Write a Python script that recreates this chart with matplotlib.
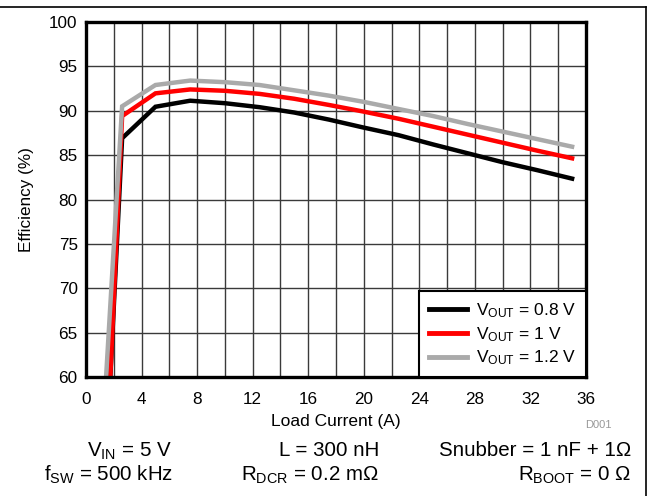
import matplotlib
matplotlib.use("Agg")
import matplotlib.pyplot as plt
from matplotlib.lines import Line2D

plt.rcParams['font.family'] = ['Liberation Sans', 'DejaVu Sans']
plt.rcParams['mathtext.fontset'] = 'custom'
plt.rcParams['mathtext.rm'] = 'Liberation Sans'
plt.rcParams['mathtext.it'] = 'Liberation Sans:italic'
plt.rcParams['mathtext.bf'] = 'Liberation Sans:bold'

# Data
load_current = [1.4, 2.6, 5, 7.5, 10, 12.5, 15, 17.5, 20, 22.5, 25, 27.5, 30, 32.5, 35]
eff_08 = [48.9, 86.9, 90.45, 91.13, 90.85, 90.4, 89.8, 89.0, 88.1, 87.25, 86.2, 85.2, 84.2, 83.3, 82.35]
eff_10 = [47.9, 89.4, 91.96, 92.4, 92.25, 91.9, 91.35, 90.65, 89.9, 89.1, 88.2, 87.3, 86.4, 85.5, 84.64]
eff_12 = [58.8, 90.5, 92.9, 93.4, 93.22, 92.9, 92.3, 91.7, 91.0, 90.2, 89.4, 88.5, 87.65, 86.8, 85.95]
series_labels = [r'V$_{\mathrm{OUT}}$ = 0.8 V', r'V$_{\mathrm{OUT}}$ = 1 V', r'V$_{\mathrm{OUT}}$ = 1.2 V']
series_colors = ['#000000', '#ff0000', '#aaaaaa']
x_ticks = [0, 4, 8, 12, 16, 20, 24, 28, 32, 36]
y_ticks = [60, 65, 70, 75, 80, 85, 90, 95, 100]

W, H = 649, 496
fig = plt.figure(figsize=(W / 100, H / 100), dpi=100)
ax = fig.add_axes([86 / W, 1 - 377 / H, (586 - 86) / W, (377 - 22) / H])

for y, lab, col in zip([eff_08, eff_10, eff_12], series_labels, series_colors):
    ax.plot(load_current, y, color=col, lw=3.2, label=lab, solid_joinstyle='miter', zorder=3)

ax.set_xlim(0, 36)
ax.set_ylim(60, 100)
ax.set_xticks(x_ticks)
ax.set_yticks(y_ticks)
ax.set_xticks(range(0, 37, 2), minor=True)
ax.tick_params(which='both', length=0, labelsize=12.3, colors='black')
ax.tick_params(axis='x', pad=10.5)
ax.tick_params(axis='y', pad=6)
ax.grid(True, which='both', axis='x', color='#3a3a3a', lw=1.0, zorder=1)
ax.grid(True, which='major', axis='y', color='#3a3a3a', lw=1.0, zorder=1)
for s in ax.spines.values():
    s.set_linewidth(2.4)
    s.set_color('black')
    s.set_zorder(5)

ax.set_xlabel('Load Current (A)', fontsize=12.5, labelpad=5)
ax.set_ylabel('Efficiency (%)', fontsize=12.3, labelpad=11)

leg = ax.legend(loc='lower right', fontsize=12.5, frameon=True, fancybox=False,
                edgecolor='black', framealpha=1, borderaxespad=0,
                handlelength=2.2, handletextpad=0.55, labelspacing=0.3,
                borderpad=0.55)
leg.get_frame().set_linewidth(1.5)
leg.set_zorder(6)
for lh in leg.get_lines():
    lh.set_linewidth(3.5)

# Figure frame (top and right)
fig.add_artist(Line2D([0, 646 / W], [1 - 7 / H, 1 - 7 / H], transform=fig.transFigure, color='black', lw=1.2))
fig.add_artist(Line2D([646 / W, 646 / W], [0, 1 - 7 / H], transform=fig.transFigure, color='black', lw=1.2))

fig.text(612 / W, 1 - 425 / H, 'D001', color='#999999', fontsize=8, ha='right', va='center')

fs = 14.8
row1 = 1 - 451 / H
row2 = 1 - 475 / H
fig.text(172 / W, row1, r'V$_{\mathrm{IN}}$ = 5 V', fontsize=fs, ha='right', va='center')
fig.text(379 / W, row1, 'L = 300 nH', fontsize=fs, ha='right', va='center')
fig.text(631 / W, row1, 'Snubber = 1 nF + 1Ω', fontsize=fs, ha='right', va='center')
fig.text(173 / W, row2, r'f$_{\mathrm{SW}}$ = 500 kHz', fontsize=fs, ha='right', va='center')
fig.text(379 / W, row2, r'R$_{\mathrm{DCR}}$ = 0.2 mΩ', fontsize=fs, ha='right', va='center')
fig.text(631 / W, row2, r'R$_{\mathrm{BOOT}}$ = 0 Ω', fontsize=fs, ha='right', va='center')

fig.savefig('out.png', dpi=100)
